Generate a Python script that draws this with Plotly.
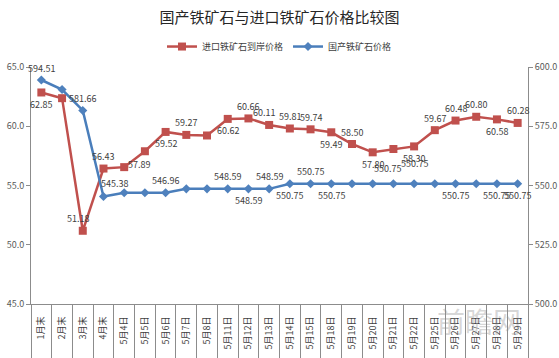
import plotly.graph_objects as go

categories = ["1月末", "2月末", "3月末", "4月末", "5月4日", "5月5日", "5月6日", "5月7日",
              "5月8日", "5月11日", "5月12日", "5月13日", "5月14日", "5月15日", "5月18日",
              "5月19日", "5月20日", "5月21日", "5月22日", "5月25日", "5月26日", "5月27日",
              "5月28日", "5月29日"]

imported_price = [62.85, 62.37, 51.18, 56.43, 56.55, 57.89, 59.52, 59.27, 59.22, 60.62,
                  60.66, 60.11, 59.81, 59.74, 59.49, 58.50, 57.80, 58.08, 58.30, 59.67,
                  60.48, 60.80, 60.58, 60.28]

domestic_price = [594.51, 590.50, 581.66, 545.38, 546.96, 546.96, 546.96, 548.59, 548.59,
                  548.59, 548.59, 548.59, 550.75, 550.75, 550.75, 550.75, 550.75, 550.75,
                  550.75, 550.75, 550.75, 550.75, 550.75, 550.75]

imported_name = "进口铁矿石到岸价格"
domestic_name = "国产铁矿石价格"
title_text = "国产铁矿石与进口铁矿石价格比较图"

# where each data label sits relative to its point (None = no label)
imported_label_pos = ["below", None, "above-left", "above", None, "below-left",
                      "below", "above", None, "below", "above",
                      "above-left", "above", "above", "below", "above",
                      "below", None, "below", "above", "above",
                      "above", "below", "above"]
domestic_label_pos = ["above", None, "above", "above-right", None, None, "above",
                      None, None, "above", "below", "above", "below",
                      "above", "below", None, None, "above-high", "above-higher",
                      None, "below", None, "below", "below"]

LABEL_SHIFT = {
    "above": (0, 12), "below": (0, -12), "above-left": (-5, 12), "below-left": (-6, -13),
    "above-right": (11, 13), "above-high": (-6, 15), "above-higher": (0, 20),
}

FONT = "Noto Sans CJK SC, Noto Sans, sans-serif"
RED = "#C0504D"
BLUE = "#4A7EBB"
LABEL_COLOR = "#404040"
AXIS_COLOR = "#8C8C8C"

fig = go.Figure()

fig.add_trace(go.Scatter(
    x=categories, y=imported_price, name=imported_name, mode="lines+markers",
    line=dict(color=RED, width=2.5),
    marker=dict(symbol="square", size=8, color=RED),
    yaxis="y",
))
fig.add_trace(go.Scatter(
    x=categories, y=domestic_price, name=domestic_name, mode="lines+markers",
    line=dict(color=BLUE, width=2.5),
    marker=dict(symbol="diamond", size=7, color="#4F81BD"),
    yaxis="y2",
))

# data labels
for series, positions, yref in ((imported_price, imported_label_pos, "y"),
                                (domestic_price, domestic_label_pos, "y2")):
    for cat, val, pos in zip(categories, series, positions):
        if pos is None:
            continue
        dx, dy = LABEL_SHIFT[pos]
        fig.add_annotation(x=cat, y=val, xref="x", yref=yref, text=f"{val:.2f}",
                           showarrow=False, xshift=dx, yshift=dy,
                           font=dict(family=FONT, size=9, color=LABEL_COLOR))

fig.update_layout(
    width=559, height=358,
    margin=dict(l=31, r=31, t=67, b=54, autoexpand=False),
    paper_bgcolor="white", plot_bgcolor="white",
    font=dict(family=FONT, size=9, color="#595959"),
    title=dict(text=title_text, x=0.5, xanchor="center", y=0.95, yanchor="middle",
               font=dict(family=FONT, size=15, color="#262626")),
    legend=dict(orientation="h", x=0.5, xanchor="center", xref="container",
                y=0.87, yanchor="middle", yref="container",
                font=dict(family=FONT, size=9, color="#404040"),
                itemwidth=30, tracegroupgap=0),
    xaxis=dict(type="category", range=[-0.5, len(categories) - 0.5], autorange=False,
               tickangle=-90, ticks="outside", tickson="boundaries",
               ticklen=54, tickcolor=AXIS_COLOR, showline=True, linecolor=AXIS_COLOR,
               showgrid=False, ticklabelstandoff=8, automargin=False,
               tickfont=dict(family=FONT, size=9, color="#404040")),
    yaxis=dict(range=[45, 65], dtick=5, tickformat=".1f", showgrid=False, zeroline=False,
               showline=True, linecolor=AXIS_COLOR, ticks="outside", ticklen=4,
               automargin=False,
               tickcolor=AXIS_COLOR, tickfont=dict(family=FONT, size=9, color="#595959")),
    yaxis2=dict(range=[500, 600], dtick=25, tickformat=".1f", showgrid=False, zeroline=False,
                overlaying="y", side="right", automargin=False,
                showline=True, linecolor=AXIS_COLOR, ticks="outside", ticklen=4,
                tickcolor=AXIS_COLOR, tickfont=dict(family=FONT, size=9, color="#595959")),
)

# faint watermark
fig.add_annotation(text="前瞻网", xref="paper", yref="paper", x=0.99, y=-0.07,
                   xanchor="right", yanchor="middle", showarrow=False,
                   font=dict(family=FONT, size=28, color="rgba(140,140,140,0.35)"))

fig.write_html("out.html", config={"displayModeBar": False},
               post_script="document.body.style.margin='0';document.body.style.overflow='hidden';")
